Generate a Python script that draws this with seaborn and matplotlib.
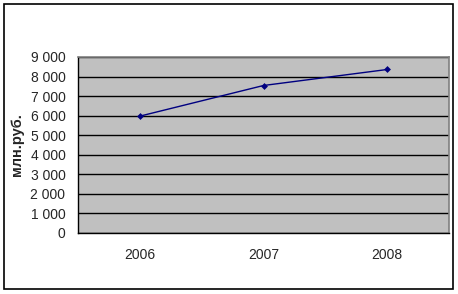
import matplotlib
matplotlib.use("Agg")
import matplotlib.pyplot as plt
import matplotlib.ticker as mticker
from matplotlib.patches import Rectangle
import seaborn as sns
import pandas as pd

years = ["2006", "2007", "2008"]
values = [5970, 7540, 8360]
y_ticks = [0, 1000, 2000, 3000, 4000, 5000, 6000, 7000, 8000, 9000]
y_label = "млн.руб."

sns.set_style("white")
plt.rcParams["font.family"] = ["Liberation Sans", "DejaVu Sans"]

W, H = 458, 294
fig = plt.figure(figsize=(W / 100, H / 100), dpi=100)
fig.patch.set_facecolor("white")
fig.patches.append(Rectangle((4 / W, 1 - 289 / H), 449 / W, 285 / H,
                             transform=fig.transFigure, fill=False,
                             edgecolor="black", linewidth=1.2))

left, right, top, bottom = 78, 449, 57, 232.7
ax = fig.add_axes([left / W, 1 - bottom / H, (right - left) / W, (bottom - top) / H])
ax.set_facecolor("#C0C0C0")

df = pd.DataFrame({"year": years, "value": values})
sns.lineplot(data=df, x="year", y="value", ax=ax, color="#000080",
             linewidth=1.0, marker="D", markersize=3.5, markeredgewidth=0,
             zorder=3)

ax.set_xlim(-0.5, len(years) - 0.5)
ax.set_ylim(0, 9000)
ax.set_yticks(y_ticks)
ax.yaxis.set_major_formatter(mticker.FuncFormatter(
    lambda v, p: f"{int(v):,}".replace(",", " ")))
ax.grid(axis="y", color="black", linewidth=1.0, zorder=1)
ax.set_axisbelow(True)

ax.set_xticks(range(len(years)))
ax.set_xticklabels(years)
ax.set_xticks([i + 0.5 for i in range(len(years))], minor=True)
ax.tick_params(axis="x", which="major", length=0, pad=11, labelsize=10)
ax.tick_params(axis="x", which="minor", length=5, width=1, color="black", direction="out")
ax.tick_params(axis="y", which="major", length=6, width=1, color="black",
               direction="out", labelsize=10, pad=3)

ax.set_xlabel("")
ax.set_ylabel(y_label, fontsize=10.5, fontweight="bold", labelpad=5)

for s in ["left", "bottom"]:
    ax.spines[s].set_color("black")
    ax.spines[s].set_linewidth(1)
for s in ["top", "right"]:
    ax.spines[s].set_color("#808080")
    ax.spines[s].set_linewidth(1.2)
    ax.spines[s].set_visible(True)

fig.savefig("out.png", dpi=100, facecolor="white")
